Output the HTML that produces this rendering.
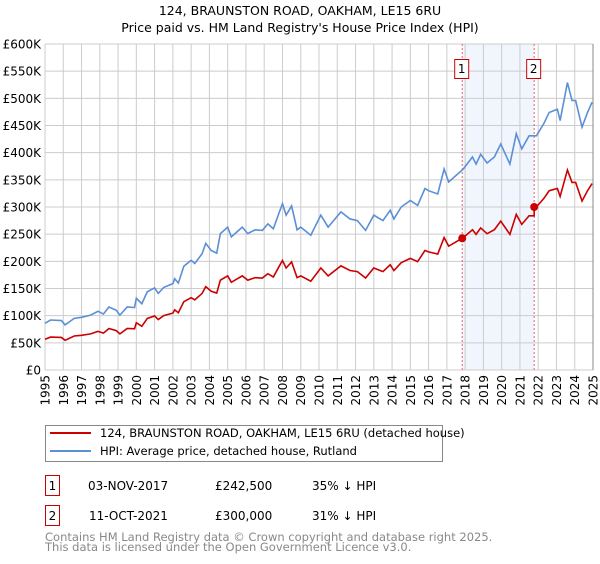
<!DOCTYPE html>
<html><head><meta charset="utf-8"><style>
body{margin:0;background:#fff;font-family:"DejaVu Sans","Liberation Sans",sans-serif;}
svg text{font-family:"DejaVu Sans","Liberation Sans",sans-serif;}
</style></head><body>
<svg id="chart" width="600" height="560" xmlns="http://www.w3.org/2000/svg">
<text x="300" y="15" text-anchor="middle" font-size="12.5">124, BRAUNSTON ROAD, OAKHAM, LE15 6RU</text>
<text x="300" y="32" text-anchor="middle" font-size="12.5">Price paid vs. HM Land Registry's House Price Index (HPI)</text>
<g id="grid"></g><g id="plot"></g><g id="axes"></g>
<g>
<rect x="45.5" y="425.5" width="397" height="36" fill="#fff" stroke="#888"/>
<line x1="50" y1="433" x2="91" y2="433" stroke="#cc0000" stroke-width="2"/>
<text x="100" y="437" font-size="11.5">124, BRAUNSTON ROAD, OAKHAM, LE15 6RU (detached house)</text>
<line x1="50" y1="451" x2="91" y2="451" stroke="#5b8fd6" stroke-width="2"/>
<text x="100" y="455" font-size="11.5">HPI: Average price, detached house, Rutland</text>
</g>
<g font-size="12">
<rect x="45.5" y="475.5" width="14" height="20" fill="#fff" stroke="#cc0000"/>
<text x="52.5" y="490" text-anchor="middle">1</text>
<text x="88" y="490">03-NOV-2017</text>
<text x="215" y="490">£242,500</text>
<text x="312" y="490">35% ↓ HPI</text>
<rect x="45.5" y="505.5" width="14" height="20" fill="#fff" stroke="#cc0000"/>
<text x="52.5" y="520" text-anchor="middle">2</text>
<text x="89" y="520">11-OCT-2021</text>
<text x="215" y="520">£300,000</text>
<text x="312" y="520">31% ↓ HPI</text>
</g>
<text x="45" y="541" font-size="11.5" fill="#888">Contains HM Land Registry data © Crown copyright and database right 2025.</text>
<text x="45" y="551" font-size="11.5" fill="#888">This data is licensed under the Open Government Licence v3.0.</text>
</svg>
<script>
const hpiYears=[1995.0,1995.3,1995.9,1996.1,1996.6,1997.0,1997.5,1997.9,1998.2,1998.5,1998.9,1999.1,1999.5,1999.9,2000.0,2000.3,2000.6,2001.0,2001.2,2001.5,2002.0,2002.1,2002.3,2002.6,2003.0,2003.2,2003.6,2003.8,2004.1,2004.4,2004.6,2005.0,2005.2,2005.5,2005.8,2006.1,2006.5,2006.9,2007.2,2007.5,2007.8,2008.0,2008.2,2008.5,2008.8,2009.0,2009.55,2010.1,2010.5,2011.2,2011.7,2012.1,2012.55,2013.0,2013.5,2013.9,2014.1,2014.5,2015.0,2015.4,2015.8,2016.0,2016.5,2016.85,2017.1,2017.9,2018.4,2018.6,2018.85,2019.2,2019.6,2019.95,2020.45,2020.8,2021.1,2021.5,2021.9,2022.3,2022.6,2023.05,2023.2,2023.6,2023.85,2024.05,2024.4,2024.7,2024.95];
const hpiValues=[86,92,91,83,95,97,101,108,103,116,110,101,116,115,132,122,144,151,141,152,159,168,160,191,202,196,214,233,220,215,251,263,245,254,263,251,258,257,269,260,288,306,285,302,258,263,248,285,263,291,278,275,257,285,275,294,278,300,312,303,334,330,324,370,346,370,392,379,397,381,392,416,379,435,407,431,431,453,474,480,459,529,496,496,447,474,493];
const saleYears=[2017.84,2021.78];
const salePrices=[242.5,300];
const saleLabels=["1","2"];
const yTicks=[0,50,100,150,200,250,300,350,400,450,500,550,600];
const yTickLabels=["£0","£50K","£100K","£150K","£200K","£250K","£300K","£350K","£400K","£450K","£500K","£550K","£600K"];
const xTicks=[1995,1996,1997,1998,1999,2000,2001,2002,2003,2004,2005,2006,2007,2008,2009,2010,2011,2012,2013,2014,2015,2016,2017,2018,2019,2020,2021,2022,2023,2024,2025];

const NS="http://www.w3.org/2000/svg";
const X0=45,X1=593,Y0=370,Y1=44;
const xs=t=>X0+(t-1995)/30*(X1-X0);
const ys=v=>Y0-v/600*(Y0-Y1);
function mk(tag,attrs,parent){const e=document.createElementNS(NS,tag);for(const k in attrs)e.setAttribute(k,attrs[k]);parent.appendChild(e);return e;}
function hpiAt(t){for(let i=1;i<hpiYears.length;i++){if(t<=hpiYears[i]){const f=(t-hpiYears[i-1])/(hpiYears[i]-hpiYears[i-1]);return hpiValues[i-1]+f*(hpiValues[i]-hpiValues[i-1]);}}return hpiValues[hpiValues.length-1];}
const grid=document.getElementById('grid'),plot=document.getElementById('plot'),axes=document.getElementById('axes');
// shaded period
const shade=mk('rect',{x:xs(saleYears[0]),y:Y1,width:xs(saleYears[1])-xs(saleYears[0]),height:Y0-Y1,fill:'#eef3fc',opacity:0.8},grid);


xTicks.forEach(t=>{
 const l=mk('line',{x1:xs(t),x2:xs(t),y1:Y1,y2:Y0,stroke:'#ccc','stroke-width':1},grid);
 
 
 const tx=mk('text',{transform:`translate(${xs(t)+4.5},${Y0+5}) rotate(-90)`,'text-anchor':'end','font-size':12},axes);
 tx.textContent=t;
 
 
});
yTicks.forEach((v,i)=>{
 const l=mk('line',{x1:X0,x2:X1,y1:ys(v),y2:ys(v),stroke:'#ccc','stroke-width':1},grid);
 
 
 const tx=mk('text',{x:X0-4,y:ys(v)+4.5,'text-anchor':'end','font-size':12},axes);
 tx.textContent=yTickLabels[i];
 
 
});
// sale vertical lines
saleYears.forEach((t,i)=>{
 const l=mk('line',{x1:xs(t),x2:xs(t),y1:Y1,y2:Y0,stroke:'#f06060','stroke-width':1,'stroke-dasharray':'2,2'},plot);
 
 
});
// HPI line
const hp=mk('polyline',{points:hpiYears.map((t,i)=>xs(t)+','+ys(hpiValues[i])).join(' '),fill:'none',stroke:'#5b8fd6','stroke-width':1.6},plot);


// property line: HPI scaled to sales
const r1=salePrices[0]/hpiAt(saleYears[0]),r2=salePrices[1]/hpiAt(saleYears[1]);
const pts=[];
hpiYears.forEach((t,i)=>{
 if(t>saleYears[1]&&pts.length&&!pts.done){pts.push(xs(saleYears[1])+','+ys(hpiAt(saleYears[1])*r1));pts.push(xs(saleYears[1])+','+ys(salePrices[1]));pts.done=true;}
 const r=t<=saleYears[1]?r1:r2;
 pts.push(xs(t)+','+ys(hpiValues[i]*r));
});
const pp=mk('polyline',{points:pts.join(' '),fill:'none',stroke:'#cc0000','stroke-width':1.6},plot);


saleYears.forEach((t,i)=>{
 const c=mk('circle',{cx:xs(t),cy:ys(salePrices[i]),r:4,fill:'#cc0000'},plot);
 
 
 const b=mk('rect',{x:xs(t)-7.5,y:59.5,width:14,height:19,fill:'#fff',stroke:'#cc0000'},plot);
 
 
 const tx=mk('text',{x:xs(t)-0.5,y:73,'text-anchor':'middle','font-size':12},plot);
 tx.textContent=saleLabels[i];
 
 
});
const ra=mk('line',{x1:X1,x2:X1,y1:Y1,y2:Y0,stroke:'#888','stroke-width':1},axes);


</script>
</body></html>
